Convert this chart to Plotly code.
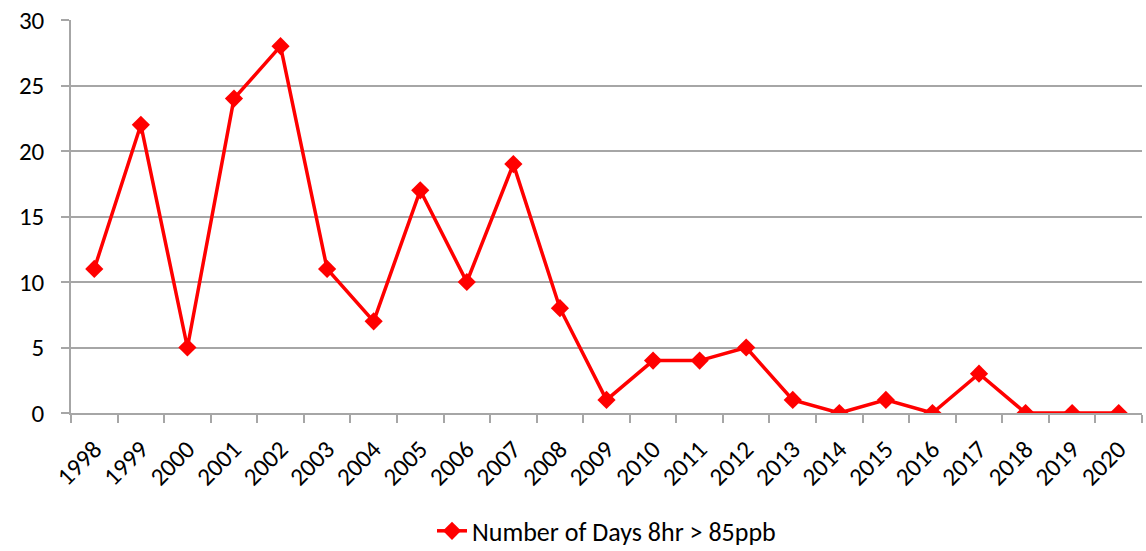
import plotly.graph_objects as go

years = [str(y) for y in range(1998, 2021)]
days = [11, 22, 5, 24, 28, 11, 7, 17, 10, 19, 8, 1, 4, 4, 5, 1, 0, 1, 0, 3, 0, 0, 0]
series_name = "Number of Days 8hr > 85ppb"
y_ticks = [0, 5, 10, 15, 20, 25, 30]

fig = go.Figure()
fig.add_trace(go.Scatter(
    x=years, y=days, mode="lines+markers", name=series_name,
    line=dict(color="#FF0000", width=3.5),
    marker=dict(symbol="diamond", size=14, color="#FF0000"),
))

font = "Carlito, Open Sans"
fig.update_layout(
    width=1146, height=551,
    margin=dict(l=71, r=4, t=20, b=138, autoexpand=False),
    plot_bgcolor="white", paper_bgcolor="white",
    font=dict(family=font, size=25, color="black"),
    showlegend=True,
    legend=dict(orientation="h", x=0.5, xanchor="center", y=-0.30, yanchor="middle",
                font=dict(size=26)),
    xaxis=dict(
        type="category", tickangle=-45, tickson="boundaries",
        range=[-0.5, len(years) - 0.5],
        ticks="outside", ticklen=8, tickcolor="#A6A6A6", tickwidth=1.5,
        showline=True, linecolor="#A6A6A6", linewidth=1.5,
        showgrid=False, tickfont=dict(size=25), automargin=False,
        ticklabelstandoff=10,
    ),
    yaxis=dict(
        range=[0, 30], tickvals=y_ticks, ticks="outside", ticklen=8,
        tickcolor="#A6A6A6", tickwidth=1.5,
        showline=True, linecolor="#A6A6A6", linewidth=1.5,
        showgrid=True, gridcolor="#A6A6A6", gridwidth=1.5,
        zeroline=False, tickfont=dict(size=25), automargin=False,
        ticklabelstandoff=12,
    ),
)
fig.write_html("out.html", config={"displayModeBar": False},
               post_script="document.body.style.margin='0';")
